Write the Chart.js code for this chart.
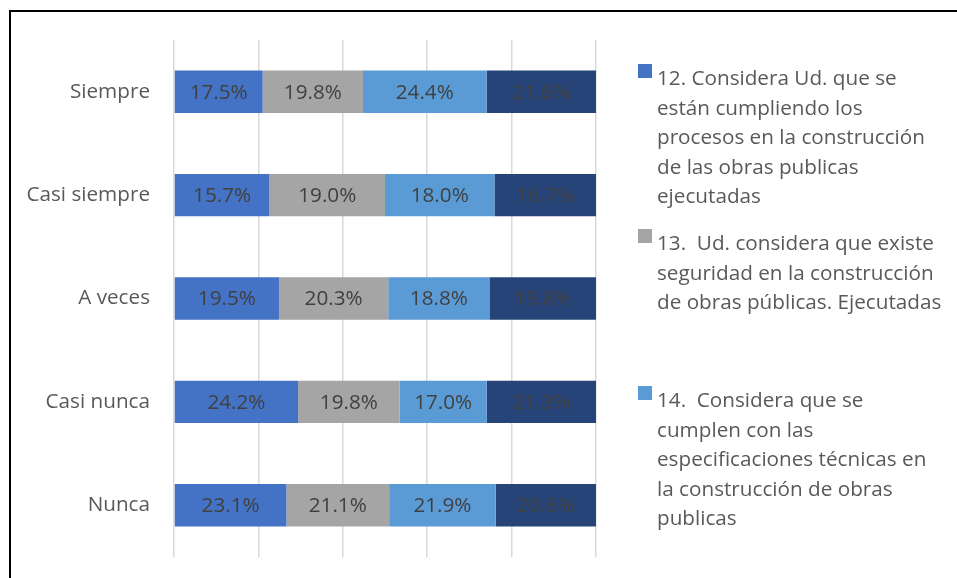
<!DOCTYPE html>
<html>
<head>
<meta charset="utf-8">
<script src="https://cdn.jsdelivr.net/npm/chart.js@4"></script>
<style>
  html, body { margin: 0; padding: 0; background: #fff; }
</style>
</head>
<body>
<canvas id="myChart" width="957" height="578"></canvas>
<script>
// categories (top to bottom)
var categories = ["Siempre", "Casi siempre", "A veces", "Casi nunca", "Nunca"];

// series values, in %
var q12 = [17.5, 15.7, 19.5, 24.2, 23.1];
var q13 = [19.8, 19.0, 20.3, 19.8, 21.1];
var q14 = [24.4, 18.0, 18.8, 17.0, 21.9];
var q15 = [21.6, 16.7, 19.8, 21.3, 20.6];

var seriesNames = [
  ["12. Considera Ud. que se", "están cumpliendo los", "procesos en la construcción", "de las obras publicas", "ejecutadas"],
  ["13.  Ud. considera que existe", "seguridad en la construcción", "de obras públicas. Ejecutadas"],
  ["14.  Considera que se", "cumplen con las", "especificaciones técnicas en", "la construcción de obras", "publicas"],
  ["15."]
];
var colors = ["#4472C4", "#A5A5A5", "#5B9BD5", "#264478"];

// x axis gridline ticks (100% stacked)
var xTicks = [0, 20, 40, 60, 80, 100];

var series = [q12, q13, q14, q15];
var rowSums = categories.map(function(c, j){
  var s = 0;
  series.forEach(function(v){ s += v[j]; });
  return s;
});

var datasets = series.map(function(vals, i){
  return {
    label: seriesNames[i].join(" "),
    raw: vals,
    data: vals.map(function(v, j){ return v / rowSums[j] * 100; }),
    backgroundColor: colors[i],
    borderWidth: 0,
    barPercentage: 0.41,
    categoryPercentage: 1
  };
});

var FONT = '"Open Sans", sans-serif';
var FSIZE = 20.7;

// white background + black frame on left/top
var framePlugin = {
  id: 'frame',
  beforeDraw: function(chart){
    var ctx = chart.ctx;
    ctx.save();
    ctx.fillStyle = '#fff';
    ctx.fillRect(0, 0, chart.width, chart.height);
    ctx.fillStyle = '#000';
    ctx.fillRect(9, 10, 2, chart.height - 10);
    ctx.fillRect(9, 10, chart.width - 9, 2);
    ctx.restore();
  }
};

// value labels in the middle of each segment
var labelPlugin = {
  id: 'segLabels',
  afterDatasetsDraw: function(chart){
    var ctx = chart.ctx;
    ctx.save();
    ctx.font = FSIZE + 'px ' + FONT;
    ctx.fillStyle = '#404040';
    ctx.textAlign = 'center';
    ctx.textBaseline = 'middle';
    chart.data.datasets.forEach(function(ds, i){
      chart.getDatasetMeta(i).data.forEach(function(bar, j){
        var p = bar.getProps(['x', 'y', 'base'], true);
        ctx.fillText(ds.raw[j].toFixed(1) + '%', (p.x + p.base) / 2, p.y + 1);
      });
    });
    ctx.restore();
  }
};

// legend on the right, wrapped text; 4th entry falls outside the frame
var legendPlugin = {
  id: 'sideLegend',
  afterDraw: function(chart){
    var ctx = chart.ctx;
    var firstBaselines = [85, 250, 407];
    var lineH = 29.5;
    ctx.save();
    ctx.font = FSIZE + 'px ' + FONT;
    ctx.textAlign = 'left';
    ctx.textBaseline = 'alphabetic';
    firstBaselines.forEach(function(by, i){
      ctx.fillStyle = colors[i];
      ctx.fillRect(638, by - 21, 14, 14);
      ctx.fillStyle = '#595959';
      seriesNames[i].forEach(function(line, k){
        ctx.fillText(line, 657, by + k * lineH);
      });
    });
    ctx.restore();
  }
};

var ctx = document.getElementById('myChart').getContext('2d');
var chart = new Chart(ctx, {
  type: 'bar',
  data: {
    labels: categories,
    datasets: datasets
  },
  options: {
    indexAxis: 'y',
    responsive: false,
    animation: false,
    layout: { padding: { top: 40, right: 361, bottom: 21, left: 0 } },
    plugins: {
      legend: { display: false },
      tooltip: { enabled: false }
    },
    scales: {
      x: {
        stacked: true,
        min: 0,
        max: 100,
        afterBuildTicks: function(scale){
          scale.ticks = xTicks.map(function(v){ return { value: v }; });
        },
        afterFit: function(scale){ scale.height = 0; },
        ticks: { display: false },
        grid: { color: '#D9D9D9', lineWidth: 1.5, drawTicks: false },
        border: { display: false }
      },
      y: {
        stacked: true,
        afterFit: function(scale){
          scale.width = 174;
          scale.paddingTop = 0;
          scale.paddingBottom = 0;
        },
        ticks: {
          padding: 24,
          color: '#595959',
          font: { family: 'Open Sans', size: FSIZE }
        },
        grid: { display: false, drawTicks: false },
        border: { display: false }
      }
    }
  },
  plugins: [framePlugin, labelPlugin, legendPlugin]
});
</script>
</body>
</html>
